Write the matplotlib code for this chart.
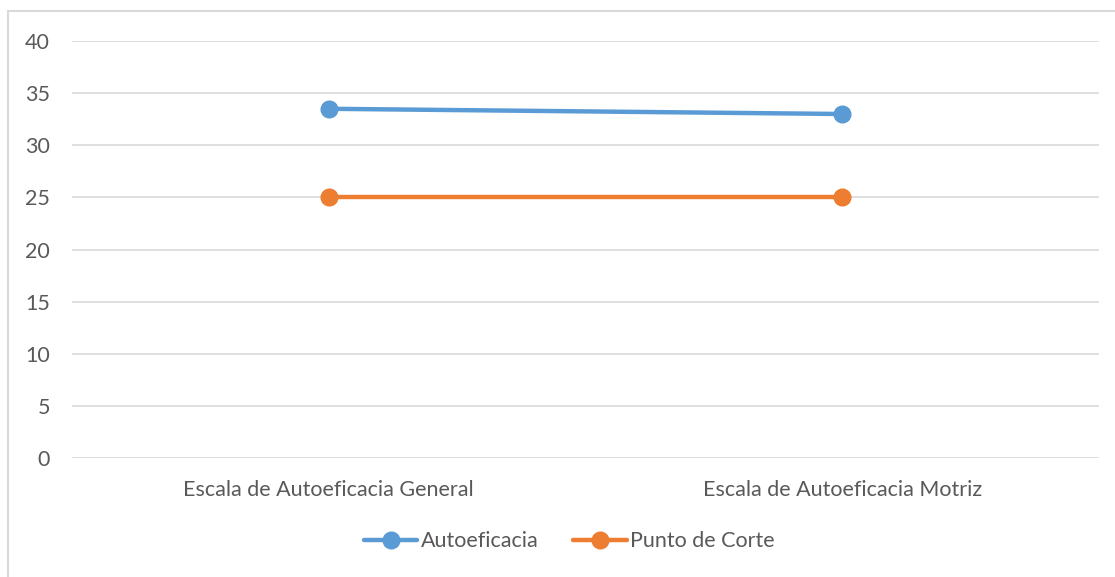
import matplotlib
matplotlib.use("Agg")
import matplotlib.pyplot as plt
from matplotlib.patches import Rectangle

plt.rcParams["font.family"] = ["Lato", "DejaVu Sans"]

categorias = ["Escala de Autoeficacia General", "Escala de Autoeficacia Motriz"]
autoeficacia = [33.5, 33.0]
punto_corte = [25, 25]
y_ticks = [0, 5, 10, 15, 20, 25, 30, 35, 40]

text_col = "#595959"
grid_col = "#D9D9D9"

fig = plt.figure(figsize=(11.15, 5.77), dpi=100)
ax = fig.add_axes([0.0646, 0.2062, 0.9211, 0.7227])

x = range(len(categorias))
ax.plot(x, autoeficacia, color="#5B9BD5", lw=3.2, marker="o", ms=12,
        label="Autoeficacia", solid_capstyle="round")
ax.plot(x, punto_corte, color="#ED7D31", lw=3.2, marker="o", ms=12,
        label="Punto de Corte", solid_capstyle="round")

ax.set_xlim(-0.5, 1.5)
ax.set_ylim(0, 40)
ax.set_yticks(y_ticks)
ax.set_xticks(list(x))
ax.set_xticklabels(categorias)
ax.tick_params(length=0, labelsize=15.5, colors=text_col)
ax.tick_params(axis="y", pad=16)
ax.tick_params(axis="x", pad=16)
ax.grid(axis="y", color=grid_col, lw=1.2)
ax.set_axisbelow(True)
for s in ax.spines.values():
    s.set_visible(False)

leg = ax.legend(loc="center", bbox_to_anchor=(0.484, -0.2), ncol=2, frameon=False,
                fontsize=15.5, handlelength=2.5, handletextpad=0.15, columnspacing=1.6)
for t in leg.get_texts():
    t.set_color(text_col)

# chart border
fig.patches.append(Rectangle((7.5 / 1115, -0.1), 1.2, 1 - 11 / 577 + 0.1,
                             transform=fig.transFigure, fill=False,
                             edgecolor=grid_col, lw=1.5))

fig.savefig("out.png", dpi=100)
